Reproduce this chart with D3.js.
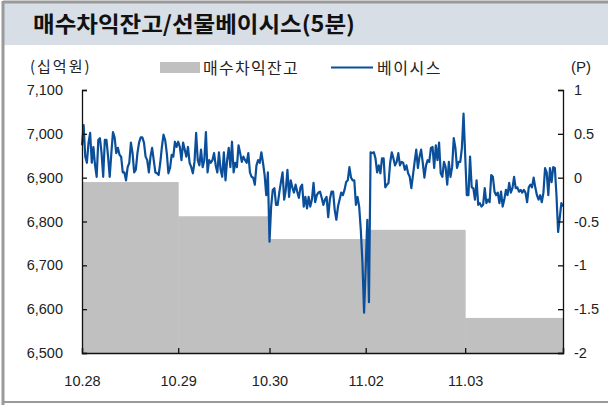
<!DOCTYPE html>
<html>
<head>
  <meta charset="utf-8">
  <title>매수차익잔고/선물베이시스(5분)</title>
  <script src="https://d3js.org/d3.v7.min.js"></script>
  <style>
    body { margin: 0; background: #fff; }
    svg text { font-family: "Liberation Sans", Arial, sans-serif; fill: #222; }
    .kr { font-family: "Noto Sans CJK KR", sans-serif; }
  </style>
</head>
<body>
<svg id="chart" width="608" height="405"></svg>
<script>
  // day labels and program-buying balance (십억원)
  const days = ["10.28", "10.29", "10.30", "11.02", "11.03"];
  const balance = [6890, 6812, 6760, 6781, 6580];

  // 5-minute futures basis (P), one list per day
  const basis = [
    [0.37, 0.60, 0.24, 0.17, 0.40, 0.51, 0.17, 0.35, 0.14, 0.01, 0.43, 0.45, 0.28, 0.01, 0.43, 0.43, 0.24, 0.01, 0.28, 0.52,
     0.46, 0.28, 0.34, 0.26, 0.24, 0.06, 0.06, -0.03, 0.12, 0.17, 0.40, 0.28, 0.06, 0.09, 0.28, 0.40, 0.46, 0.46, 0.40, 0.24,
     0.20, 0.06, 0.24, 0.34, 0.20, 0.06, 0.05, 0.03, 0.17, 0.35, 0.49, 0.43, 0.28, 0.05, 0.11, 0.26, 0.24, 0.41, 0.35],
    [0.41, 0.35, 0.20, 0.40, 0.32, 0.24, 0.35, 0.17, 0.12, 0.05, 0.18, 0.51, 0.20, 0.14, 0.32, 0.12, 0.20, 0.52, 0.06, 0.20,
     0.17, 0.20, 0.28, 0.14, 0.06, 0.29, 0.09, 0.01, 0.29, -0.03, 0.20, 0.34, 0.12, 0.41, 0.06, 0.17, 0.12, 0.37, 0.28, 0.18,
     0.24, 0.20, 0.17, 0.28, 0.06, 0.01, 0.00, -0.08, 0.14, 0.20, 0.17, 0.29, 0.17, 0.03, -0.20, 0.06],
    [-0.73, -0.33, -0.14, -0.12, -0.31, -0.31, -0.17, -0.05, 0.06, -0.25, -0.14, 0.09, -0.22, -0.03, -0.11, -0.17, -0.08, -0.16, -0.23, -0.11,
     -0.08, -0.33, -0.22, -0.35, -0.22, -0.33, -0.25, -0.06, -0.28, -0.20, -0.17, -0.16, -0.23, -0.31, -0.25, -0.22, -0.45, -0.25, -0.16, -0.16,
     -0.37, -0.48, -0.33, -0.25, -0.17, -0.20, -0.14, -0.05, -0.03, 0.12, 0.00, -0.03, -0.03, -0.31, -0.22, -0.33, -0.60, -0.97, -1.54],
    [-1.02, -0.48, -1.42, 0.29, 0.28, 0.29, 0.22, 0.06, 0.14, 0.05, 0.22, 0.22, -0.11, -0.08, -0.06, 0.17, 0.29, 0.22, 0.14, 0.18,
     0.28, 0.14, 0.18, 0.17, 0.09, 0.14, 0.05, 0.01, -0.12, 0.03, 0.18, 0.32, 0.11, 0.24, 0.32, 0.17, 0.00, 0.14, 0.20, 0.18,
     0.34, 0.35, 0.11, 0.37, 0.20, 0.40, 0.05, 0.01, 0.18, 0.12, -0.08, 0.18, 0.01, 0.12, 0.45, 0.34, 0.11, 0.18, 0.18, 0.34, 0.73],
    [0.26, -0.20, -0.20, 0.24, -0.11, -0.12, -0.25, -0.03, -0.31, -0.29, -0.33, -0.31, -0.12, -0.29, -0.25, -0.28, 0.03, 0.01, -0.16, -0.20,
     -0.17, -0.29, -0.16, -0.33, -0.25, -0.14, -0.20, -0.06, -0.17, -0.12, 0.01, -0.12, -0.11, -0.16, -0.14, -0.17, -0.14, -0.17, -0.28, -0.11,
     -0.08, -0.11, 0.00, -0.11, -0.20, -0.25, -0.20, -0.28, -0.17, 0.11, 0.06, -0.20, 0.11, -0.05, 0.12, 0.11, -0.20, -0.62, -0.46, -0.29, -0.33]
  ];

  const leftTicks = [6500, 6600, 6700, 6800, 6900, 7000, 7100];
  const rightTicks = [-2, -1.5, -1, -0.5, 0, 0.5, 1];

  const svg = d3.select("#chart");
  const m = { left: 82, right: 563, top: 90, bottom: 353 };

  // frame and title band
  svg.append("rect").attr("x", 4).attr("y", 3).attr("width", 604).attr("height", 42).attr("fill", "#d7dee6");
  svg.append("line").attr("x1", 3).attr("x2", 608).attr("y1", 2).attr("y2", 2).attr("stroke", "#9a9a9a").attr("stroke-width", 3);
  svg.append("line").attr("x1", 3).attr("x2", 3).attr("y1", 1).attr("y2", 405).attr("stroke", "#9a9a9a").attr("stroke-width", 3);
  svg.append("line").attr("x1", 3).attr("x2", 608).attr("y1", 402).attr("y2", 402).attr("stroke", "#9a9a9a").attr("stroke-width", 2);
  svg.append("text").attr("class", "kr").attr("x", 33).attr("y", 32)
    .attr("font-size", 22).attr("font-weight", 700).style("fill", "#111")
    .attr("textLength", 322).attr("lengthAdjust", "spacingAndGlyphs")
    .text("매수차익잔고/선물베이시스(5분)");

  // x runs over the 5-minute points; each day starts at its first point
  const starts = [];
  const pts = [];
  basis.forEach(arr => {
    starts.push(pts.length);
    arr.forEach(v => pts.push([pts.length, v]));
  });
  const last = pts.length - 1;
  const ends = starts.slice(1).concat([last]);

  const x = d3.scaleLinear().domain([0, last]).range([m.left, m.right]);
  const yL = d3.scaleLinear().domain([6500, 7100]).range([m.bottom, m.top]);
  const yR = d3.scaleLinear().domain([-2, 1]).range([m.bottom, m.top]);

  // balance bars, one per day
  svg.append("g").selectAll("rect").data(balance).join("rect")
    .attr("x", (d, i) => x(starts[i]))
    .attr("width", (d, i) => x(ends[i]) - x(starts[i]) + 0.5)
    .attr("y", d => yL(d))
    .attr("height", d => yL(6500) - yL(d))
    .attr("fill", "#c0c0c0");

  // basis line
  svg.append("path").datum(pts)
    .attr("fill", "none").attr("stroke", "#0b4f9a").attr("stroke-width", 2.2)
    .attr("stroke-linejoin", "round")
    .attr("d", d3.line().x(p => x(p[0])).y(p => yR(p[1])));

  // axes
  const axL = svg.append("g").attr("transform", `translate(${m.left},0)`)
    .call(d3.axisRight(yL).tickValues(leftTicks).tickSize(5).tickFormat(d3.format(",")));
  axL.selectAll("text").attr("x", -19).attr("text-anchor", "end");
  const axR = svg.append("g").attr("transform", `translate(${m.right},0)`)
    .call(d3.axisLeft(yR).tickValues(rightTicks).tickSize(5).tickFormat(d => d));
  axR.selectAll("text").attr("x", 11).attr("text-anchor", "start");
  const axB = svg.append("g").attr("transform", `translate(0,${m.bottom})`)
    .call(d3.axisTop(x).tickValues(starts.concat([last])).tickSize(5)
      .tickFormat(v => { const i = starts.indexOf(v); return i >= 0 ? days[i] : ""; }));
  axB.selectAll("text").attr("y", 33);

  [axL, axR, axB].forEach(g => {
    g.select(".domain").attr("stroke", "#111").attr("stroke-width", 1.3);
    g.selectAll(".tick line").attr("stroke", "#111").attr("stroke-width", 1.3);
    g.selectAll("text").attr("font-size", 14.5).style("fill", "#222")
      .attr("font-family", "'Liberation Sans', Arial, sans-serif");
  });

  // axis unit labels
  svg.append("text").attr("class", "kr").attr("x", 30).attr("y", 72).attr("font-size", 15)
    .attr("letter-spacing", 2).text("(십억원)");
  svg.append("text").attr("x", 571).attr("y", 72).attr("font-size", 15).text("(P)");

  // legend
  svg.append("rect").attr("x", 160).attr("y", 62).attr("width", 40).attr("height", 11).attr("fill", "#c0c0c0");
  svg.append("text").attr("class", "kr").attr("x", 203).attr("y", 73.5).attr("font-size", 16)
    .attr("letter-spacing", 1.3).text("매수차익잔고");
  svg.append("line").attr("x1", 331).attr("x2", 373).attr("y1", 67.5).attr("y2", 67.5).attr("stroke", "#0b4f9a").attr("stroke-width", 2);
  svg.append("text").attr("class", "kr").attr("x", 377).attr("y", 73.5).attr("font-size", 16)
    .attr("letter-spacing", 1.5).text("베이시스");
</script>
</body>
</html>
